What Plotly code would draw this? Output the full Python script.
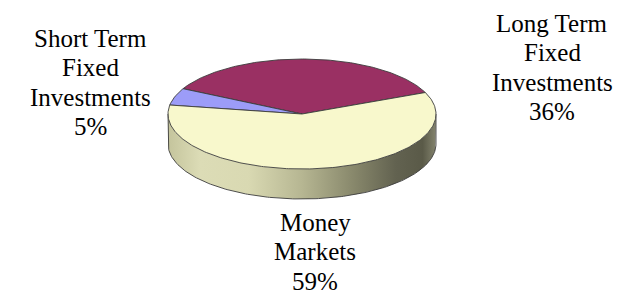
import numpy as np
import plotly.graph_objects as go

# ---- data ----
labels = ["Long Term Fixed Investments", "Short Term Fixed Investments", "Money Markets"]
label_lines = [["Long Term", "Fixed", "Investments"],
               ["Short Term", "Fixed", "Investments"],
               ["Money", "Markets"]]
values = [36, 5, 59]

# ---- style / layout ----
slice_colors = ["#9a3063", "#9c9cf8", "#f8f8cc"]
side_scale = [[0.0, "#c4c49c"], [0.12, "#dcdcb6"], [0.3, "#d9d9b2"], [0.5, "#b6b692"],
              [0.7, "#86866a"], [0.85, "#626250"], [0.95, "#5a5a48"], [1.0, "#84846e"]]
CX, CY, A, B, DEPTH = 302.0, 114.0, 134.0, 55.0, 30.0
START = 23.0  # degrees, counter-clockwise from 3 o'clock
label_pos = [(552, 23), (90, 38), (315, 222)]  # x, y of first line (pixels)
LINE_STEP = 29.6
FONT = "Liberation Serif, serif"
EDGE = "#3c3c3c"


def ell(t_deg, dy=0.0):
    t = np.radians(t_deg)
    return CX + A * np.cos(t), CY - B * np.sin(t) + dy


fig = go.Figure()

# side (front, visible half)
ts = np.linspace(180, 360, 181)
tx, ty = ell(ts)
bx, by = ell(ts[::-1], DEPTH)
fig.add_trace(go.Scatter(
    x=np.concatenate([tx, bx]), y=np.concatenate([ty, by]),
    fill="toself", mode="lines", line=dict(width=0),
    fillgradient=dict(type="horizontal", colorscale=side_scale),
    hoverinfo="skip"))
ox, oy = ell(ts, DEPTH)
fig.add_trace(go.Scatter(
    x=np.concatenate([[tx[0]], ox, [tx[-1]]]),
    y=np.concatenate([[ty[0]], oy, [ty[-1]]]),
    mode="lines", line=dict(color=EDGE, width=0.9), hoverinfo="skip"))

# top face slices
total = float(sum(values))
cum = 0.0
for lab, v, col in zip(labels, values, slice_colors):
    t0 = START + 360.0 * cum / total
    t1 = START + 360.0 * (cum + v) / total
    cum += v
    tt = np.linspace(t0, t1, max(int(abs(t1 - t0)) + 2, 3))
    px, py = ell(tt)
    fig.add_trace(go.Scatter(
        x=np.concatenate([[CX], px, [CX]]), y=np.concatenate([[CY], py, [CY]]),
        fill="toself", fillcolor=col, mode="lines",
        line=dict(color=EDGE, width=0.9), name=lab, hoverinfo="name"))

# labels
for lines, v, (lx, ly) in zip(label_lines, values, label_pos):
    for i, s in enumerate(lines + [f"{v}%"]):
        fig.add_annotation(x=lx, y=ly + i * LINE_STEP, text=s, showarrow=False,
                           xanchor="center", yanchor="middle",
                           font=dict(family=FONT, size=25, color="#000000"))

fig.update_layout(
    width=633, height=294, margin=dict(l=0, r=0, t=0, b=0),
    paper_bgcolor="white", plot_bgcolor="white", showlegend=False,
    font=dict(family=FONT),
    xaxis=dict(range=[0, 633], visible=False, fixedrange=True),
    yaxis=dict(range=[294, 0], visible=False, fixedrange=True),
)
fig.write_html("out.html", config={"displayModeBar": False},
               post_script="document.body.style.margin='0';document.body.style.overflow='hidden';")
